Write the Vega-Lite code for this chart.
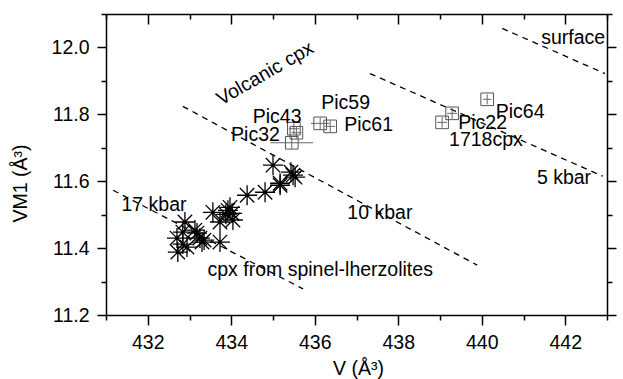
{
  "$schema": "https://vega.github.io/schema/vega-lite/v6.json",
  "width": 501,
  "height": 301,
  "autosize": "none",
  "padding": {"left": 106, "top": 14, "right": 16, "bottom": 64},
  "background": "white",
  "config": {
    "view": {"stroke": null},
    "font": "Liberation Sans",
    "axis": {
      "domainColor": "black",
      "domainWidth": 1.5,
      "tickColor": "black",
      "tickWidth": 1.5,
      "labelColor": "black",
      "labelFont": "Liberation Sans",
      "labelFontSize": 19.5,
      "titleFont": "Liberation Sans",
      "titleFontSize": 19.5,
      "titleFontWeight": "normal",
      "titleColor": "black",
      "grid": false
    }
  },
  "datasets": {
    "lines": [
      {"line": "surface", "x": 440.49, "y": 12.057},
      {"line": "surface", "x": 442.95, "y": 11.922},
      {"line": "5 kbar", "x": 437.32, "y": 11.922},
      {"line": "5 kbar", "x": 442.9, "y": 11.615},
      {"line": "10 kbar", "x": 432.84, "y": 11.824},
      {"line": "10 kbar", "x": 439.89, "y": 11.349},
      {"line": "17 kbar", "x": 431.17, "y": 11.573},
      {"line": "17 kbar", "x": 435.72, "y": 11.278}
    ],
    "lherz": [
      {"x": 432.89, "y": 11.478}, {"x": 432.84, "y": 11.448}, {"x": 433.13, "y": 11.454},
      {"x": 433.18, "y": 11.445}, {"x": 433.3, "y": 11.418}, {"x": 433.35, "y": 11.424},
      {"x": 433.25, "y": 11.43}, {"x": 432.7, "y": 11.43}, {"x": 432.72, "y": 11.388},
      {"x": 432.94, "y": 11.403}, {"x": 432.84, "y": 11.412}, {"x": 433.56, "y": 11.507},
      {"x": 433.92, "y": 11.513}, {"x": 433.97, "y": 11.522}, {"x": 433.87, "y": 11.501},
      {"x": 434.02, "y": 11.504}, {"x": 433.73, "y": 11.478}, {"x": 434.04, "y": 11.484},
      {"x": 433.73, "y": 11.418}, {"x": 434.38, "y": 11.558}, {"x": 434.81, "y": 11.567},
      {"x": 435.17, "y": 11.594}, {"x": 435.0, "y": 11.648}, {"x": 435.48, "y": 11.618},
      {"x": 435.43, "y": 11.627}, {"x": 435.53, "y": 11.612}, {"x": 435.17, "y": 11.588}
    ],
    "volc": [
      {"name": "Pic43", "x": 435.5, "y": 11.757, "x_lo": 435.38, "x_hi": 435.62, "y_lo": 11.74, "y_hi": 11.774},
      {"name": "Pic43", "x": 435.56, "y": 11.745, "x_lo": 435.44, "x_hi": 435.68, "y_lo": 11.728, "y_hi": 11.762},
      {"name": "Pic32", "x": 435.45, "y": 11.715, "x_lo": 434.94, "x_hi": 435.96, "y_lo": 11.697, "y_hi": 11.733},
      {"name": "Pic59", "x": 436.13, "y": 11.773, "x_lo": 435.91, "x_hi": 436.35, "y_lo": 11.756, "y_hi": 11.79},
      {"name": "Pic61", "x": 436.37, "y": 11.764, "x_lo": 436.25, "x_hi": 436.49, "y_lo": 11.747, "y_hi": 11.781},
      {"name": "Pic22", "x": 439.29, "y": 11.803, "x_lo": 439.17, "x_hi": 439.41, "y_lo": 11.787, "y_hi": 11.819},
      {"name": "Pic22", "x": 439.05, "y": 11.776, "x_lo": 438.93, "x_hi": 439.17, "y_lo": 11.76, "y_hi": 11.792},
      {"name": "Pic64", "x": 440.13, "y": 11.845, "x_lo": 440.03, "x_hi": 440.23, "y_lo": 11.83, "y_hi": 11.86}
    ],
    "labels": [
      {"t": "Pic43", "x": 435.1, "y": 11.791},
      {"t": "Pic59", "x": 436.74, "y": 11.833},
      {"t": "Pic61", "x": 437.29, "y": 11.767},
      {"t": "Pic32", "x": 434.58, "y": 11.737},
      {"t": "Pic64", "x": 440.92, "y": 11.806},
      {"t": "Pic22", "x": 440.02, "y": 11.773},
      {"t": "1718cpx", "x": 440.1, "y": 11.722},
      {"t": "17 kbar", "x": 432.15, "y": 11.528},
      {"t": "10 kbar", "x": 437.56, "y": 11.504},
      {"t": "5 kbar", "x": 441.97, "y": 11.609},
      {"t": "surface", "x": 442.19, "y": 12.027},
      {"t": "cpx from spinel-lherzolites", "x": 436.13, "y": 11.334}
    ],
    "rotated": [
      {"t": "Volcanic cpx", "x": 434.81, "y": 11.922}
    ]
  },
  "layer": [
    {
      "data": {"name": "lines"},
      "mark": {"type": "line", "color": "black", "strokeDash": [6, 5], "strokeWidth": 1.3},
      "encoding": {
        "x": {
          "field": "x", "type": "quantitative",
          "scale": {"domain": [431, 443], "nice": false, "zero": false},
          "axis": {
            "orient": "bottom",
            "values": [431, 432, 433, 434, 435, 436, 437, 438, 439, 440, 441, 442, 443],
            "labelExpr": "datum.value % 2 === 0 ? datum.label : ''",
            "tickSize": {"condition": {"test": "datum.value % 2 === 0", "value": 10}, "value": 5},
            "labelPadding": 8,
            "title": "V (Å³)",
            "titleX": 252,
            "titleY": 53,
            "titleBaseline": "middle"
          }
        },
        "y": {
          "field": "y", "type": "quantitative",
          "scale": {"domain": [11.2, 12.1], "nice": false, "zero": false},
          "axis": {
            "orient": "left",
            "values": [11.2, 11.3, 11.4, 11.5, 11.6, 11.7, 11.8, 11.9, 12.0, 12.1],
            "format": ".1f",
            "labelExpr": "round(datum.value * 10) % 2 === 0 ? datum.label : ''",
            "tickSize": {"condition": {"test": "round(datum.value * 10) % 2 === 0", "value": 9}, "value": 5},
            "labelPadding": 8,
            "title": "VM1 (Å³)",
            "titleX": -86,
            "titleY": 169,
            "titleBaseline": "middle"
          }
        },
        "detail": {"field": "line"}
      }
    },
    {
      "data": {"name": "lherz"},
      "mark": {
        "type": "point",
        "shape": "M-1,0L1,0M0,-1L0,1M-0.72,-0.72L0.72,0.72M-0.72,0.72L0.72,-0.72",
        "size": 400,
        "filled": false,
        "color": "black",
        "strokeWidth": 1.3,
        "opacity": 1
      },
      "encoding": {
        "x": {
          "field": "x", "type": "quantitative",
          "axis": {
            "orient": "top",
            "values": [431, 432, 433, 434, 435, 436, 437, 438, 439, 440, 441, 442, 443],
            "labels": false,
            "title": null,
            "tickSize": {"condition": {"test": "datum.value % 2 === 0", "value": -10}, "value": -5}
          }
        },
        "y": {
          "field": "y", "type": "quantitative",
          "axis": {
            "orient": "right",
            "values": [11.2, 11.3, 11.4, 11.5, 11.6, 11.7, 11.8, 11.9, 12.0, 12.1],
            "labels": false,
            "title": null,
            "tickSize": {"condition": {"test": "round(datum.value * 10) % 2 === 0", "value": 9}, "value": 5}
          }
        }
      }
    },
    {
      "data": {"name": "volc"},
      "mark": {"type": "rule", "color": "#666666", "strokeWidth": 1},
      "encoding": {
        "x": {"field": "x_lo", "type": "quantitative", "axis": null},
        "x2": {"field": "x_hi"},
        "y": {"field": "y", "type": "quantitative", "axis": null}
      }
    },
    {
      "data": {"name": "volc"},
      "mark": {"type": "rule", "color": "#666666", "strokeWidth": 1},
      "encoding": {
        "x": {"field": "x", "type": "quantitative", "axis": null},
        "y": {"field": "y_lo", "type": "quantitative", "axis": null},
        "y2": {"field": "y_hi"}
      }
    },
    {
      "data": {"name": "volc"},
      "mark": {"type": "point", "shape": "square", "size": 160, "filled": false, "color": "#555555", "strokeWidth": 1, "opacity": 1},
      "encoding": {
        "x": {"field": "x", "type": "quantitative", "axis": null},
        "y": {"field": "y", "type": "quantitative", "axis": null}
      }
    },
    {
      "data": {"name": "labels"},
      "mark": {"type": "text", "font": "Liberation Sans", "fontSize": 19.5, "color": "black", "align": "center", "baseline": "middle"},
      "encoding": {
        "x": {"field": "x", "type": "quantitative", "axis": null},
        "y": {"field": "y", "type": "quantitative", "axis": null},
        "text": {"field": "t"}
      }
    },
    {
      "data": {"name": "rotated"},
      "mark": {"type": "text", "font": "Liberation Sans", "fontSize": 19.5, "color": "black", "align": "center", "baseline": "middle", "angle": -30},
      "encoding": {
        "x": {"field": "x", "type": "quantitative", "axis": null},
        "y": {"field": "y", "type": "quantitative", "axis": null},
        "text": {"field": "t"}
      }
    }
  ],
  "resolve": {"axis": {"x": "independent", "y": "independent"}}
}
